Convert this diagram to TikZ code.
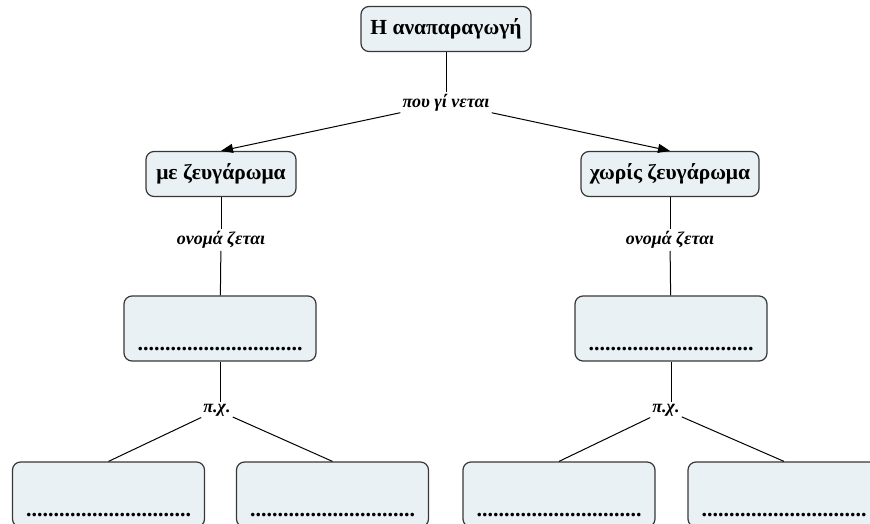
\documentclass[tikz,border=0pt]{standalone}
\usepackage{fontspec}
\setmainfont{Liberation Serif}
\usetikzlibrary{arrows.meta}
\definecolor{boxfill}{RGB}{233,241,244}
\definecolor{boxline}{RGB}{55,55,55}
\newcommand{\blankline}{..............................}
\begin{document}
\begin{tikzpicture}[x=1pt,y=-1pt,
  concept/.style={draw=boxline, line width=1.2pt, fill=boxfill, rounded corners=8pt,
    font=\fontsize{21.5}{24}\selectfont\bfseries, inner sep=0pt, minimum height=45pt},
  blank/.style={draw=boxline, line width=1.2pt, fill=boxfill, rounded corners=8pt,
    minimum width=192pt, minimum height=65pt, inner xsep=0pt, inner ysep=4pt,
    text height=50.5pt, text depth=6.5pt, font=\fontsize{22}{24}\selectfont\bfseries},
  linklabel/.style={font=\fontsize{18}{20}\selectfont\bfseries\itshape, inner sep=2pt},
  wire/.style={draw=black, line width=1pt},
  arrowwire/.style={wire, -{Triangle[length=12pt,width=9pt]}}
]
\useasboundingbox (0,0) rectangle (870,524);
\clip (0,0) rectangle (870,524);

% concepts
\node[concept, minimum width=170pt] (top) at (446,29) {Η αναπαραγωγή};
\node[concept, minimum width=150pt] (with) at (221,174) {με ζευγάρωμα};
\node[concept, minimum width=178pt] (without) at (670,174) {χωρίς ζευγάρωμα};

% boxes to fill in
\node[blank] (name1) at (220,328.5) {\blankline};
\node[blank] (name2) at (671,328.5) {\blankline};
\node[blank] (ex1) at (108.5,494.5) {\blankline};
\node[blank] (ex2) at (332.5,494.5) {\blankline};
\node[blank] (ex3) at (559,494.5) {\blankline};
\node[blank] (ex4) at (784,494.5) {\blankline};

% linking phrases
\node[linklabel] (how) at (446,103) {που γί νεται};
\node[linklabel] (called1) at (221,240) {ονομά ζεται};
\node[linklabel] (called2) at (670,240) {ονομά ζεται};
\node[linklabel] (eg1) at (217,410) {π.χ.};
\node[linklabel] (eg2) at (666,410) {π.χ.};

% connectors
\draw[wire] (top) -- (how);
\draw[arrowwire] (how) -- (with.north);
\draw[arrowwire] (how) -- (without.north);
\draw[wire] (with) -- (called1);
\draw[wire] (called1) -- (name1);
\draw[wire] (without) -- (called2);
\draw[wire] (called2) -- (name2);
\draw[wire] (name1) -- (eg1.north -| name1);
\draw[wire] (eg1) -- (ex1.north);
\draw[wire] (eg1) -- (ex2.north);
\draw[wire] (name2) -- (eg2.north -| name2);
\draw[wire] (eg2) -- (ex3.north);
\draw[wire] (eg2) -- (ex4.north);
\end{tikzpicture}
\end{document}
